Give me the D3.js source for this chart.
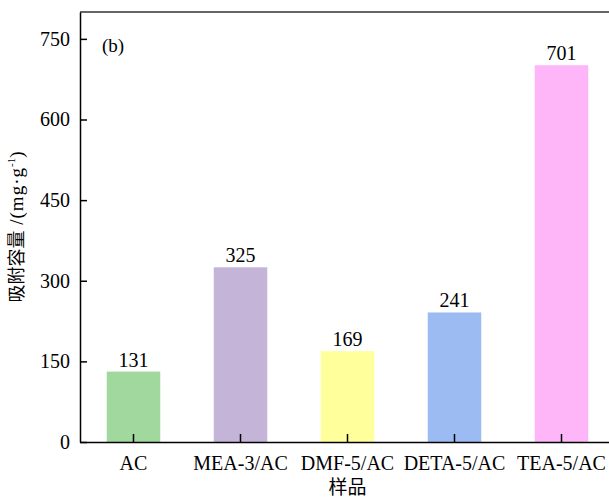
<!DOCTYPE html>
<html>
<head>
<meta charset="utf-8">
<script src="https://cdn.jsdelivr.net/npm/d3@7"></script>
<style>
  body { margin: 0; background: #fff; }
  text { font-family: "Liberation Serif", "Noto Sans CJK SC", serif; fill: #000; }
</style>
</head>
<body>
<div id="chart"></div>
<script>
// chart data
const samples = ["AC", "MEA-3/AC", "DMF-5/AC", "DETA-5/AC", "TEA-5/AC"];
const capacity = [131, 325, 169, 241, 701];
const barColors = ["#a0d89e", "#c4b4d8", "#ffff9c", "#9cbbf3", "#ffb6f9"];
const yTicks = [0, 150, 300, 450, 600, 750];

var margin = {top: 12, right: -6, bottom: 57, left: 80},
  width = 609 - margin.left - margin.right,
  height = 499 - margin.top - margin.bottom;

var svg = d3.select("#chart")
  .append("svg")
  .attr("width", 609)
  .attr("height", 499)
  .append("g")
  .attr("transform", "translate(" + margin.left + "," + margin.top + ")");

var xScale = d3.scaleBand()
  .domain(samples)
  .range([0, width])
  .paddingInner(0.5)
  .paddingOuter(0.25);

var yScale = d3.scaleLinear()
  .domain([0, 800])
  .range([height, 0]);

// bars
svg.selectAll(".bar")
  .data(samples)
  .enter().append("rect")
  .attr("class", "bar")
  .attr("x", function(d) { return xScale(d); })
  .attr("width", xScale.bandwidth())
  .attr("y", function(d, i) { return yScale(capacity[i]); })
  .attr("height", function(d, i) { return height - yScale(capacity[i]); })
  .attr("fill", function(d, i) { return barColors[i]; });

// value labels
svg.selectAll(".val")
  .data(samples)
  .enter().append("text")
  .attr("class", "val")
  .attr("x", function(d) { return xScale(d) + xScale.bandwidth() / 2; })
  .attr("y", function(d, i) { return yScale(capacity[i]) - 5; })
  .attr("text-anchor", "middle")
  .style("font-size", "20px")
  .text(function(d, i) { return capacity[i]; });

// top frame line
svg.append("line")
  .attr("x1", 0).attr("x2", width)
  .attr("y1", 0).attr("y2", 0)
  .attr("stroke", "#333").attr("stroke-width", 1.5);

// y axis
var yAxis = svg.append("g")
  .call(d3.axisLeft(yScale).tickValues(yTicks).tickSize(-7).tickPadding(10).tickSizeOuter(0));
yAxis.selectAll("text").style("font-size", "20px").style("font-family", "Liberation Serif");
yAxis.selectAll("line").attr("stroke", "#000").attr("stroke-width", 1.5);
yAxis.select(".domain").attr("stroke", "#000").attr("stroke-width", 1.5);

// x axis
var xAxis = svg.append("g")
  .attr("transform", "translate(0," + height + ")")
  .call(d3.axisBottom(xScale).tickSize(-8).tickPadding(14).tickSizeOuter(0));
xAxis.selectAll("text").style("font-size", "20px").style("font-family", "Liberation Serif");
xAxis.selectAll("line").attr("stroke", "#000").attr("stroke-width", 1.5);
xAxis.select(".domain").attr("stroke", "#000").attr("stroke-width", 1.5);

// axis titles
svg.append("text")
  .attr("x", width / 2)
  .attr("y", height + 52)
  .attr("text-anchor", "middle")
  .style("font-size", "19px")
  .text("样品");

var yLabel = svg.append("text")
  .attr("transform", "translate(-57," + (height / 2) + ") rotate(-90)")
  .attr("text-anchor", "middle")
  .style("font-size", "18px");
yLabel.append("tspan").text("吸附容量");
yLabel.append("tspan").style("font-size", "19px").style("letter-spacing", "1px").text(" /(mg·g");
yLabel.append("tspan").attr("dy", -8).style("font-size", "11px").text("-1");
yLabel.append("tspan").attr("dy", 8).style("font-size", "19px").text(")");

// panel tag
svg.append("text")
  .attr("x", 22)
  .attr("y", 40)
  .style("font-size", "19px")
  .text("(b)");
</script>
</body>
</html>
